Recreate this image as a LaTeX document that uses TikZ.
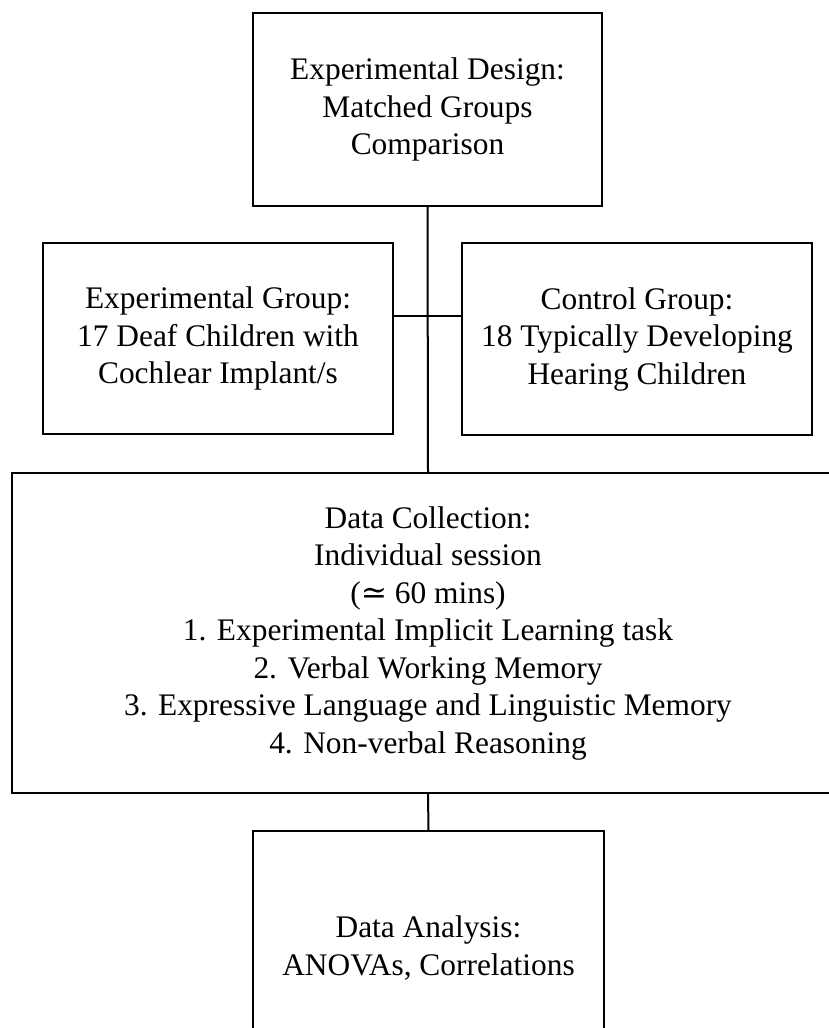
\documentclass[tikz,border=0pt]{standalone}
\usepackage{fontspec}
\setmainfont{Liberation Serif}
\newfontfamily\symfont{DejaVu Serif}
\begin{document}
\begin{tikzpicture}[x=1pt,y=-1pt,
  box/.style={draw=black, line width=2pt, align=center, inner sep=0pt,
    font=\fontsize{31.4}{37.5}\selectfont},
  link/.style={draw=black, line width=2pt}]
\useasboundingbox (0,0) rectangle (828,1028);
\node[box, minimum width=349pt, minimum height=193pt] (design) at (427.5,109.5)
  {Experimental Design:\\Matched Groups\\Comparison};
\node[box, minimum width=350pt, minimum height=191pt] (exp) at (218,338.5)
  {Experimental Group:\\17 Deaf Children with\\Cochlear Implant/s};
\node[box, minimum width=350pt, minimum height=192pt] (ctrl) at (637,339)
  {Control Group:\\18 Typically Developing\\Hearing Children};
\node[box, minimum width=832pt, minimum height=320pt] (coll) at (428,633)
  {Data Collection:\\Individual session\\({\symfont≃} 60 mins)\\1. Experimental Implicit Learning task\\2. Verbal Working Memory\\3. Expressive Language and Linguistic Memory\\4. Non-verbal Reasoning};
\node[box, minimum width=351pt, minimum height=234pt] (anal) at (428.5,948)
  {Data Analysis:\\ANOVAs, Correlations};
\coordinate (j) at (428,316);
\draw[link] (design.south) -- (coll.north);
\draw[link] (exp.east |- j) -- (ctrl.west |- j);
\draw[link] (coll.south) -- (anal.north);
\end{tikzpicture}
\end{document}
